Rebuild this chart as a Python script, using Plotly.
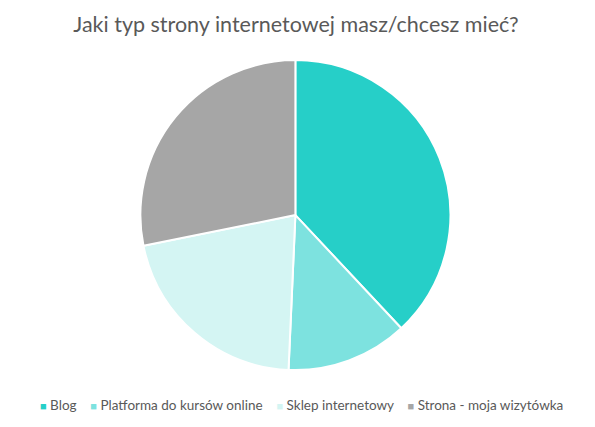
import plotly.graph_objects as go

# survey answers (counts)
labels = ["Blog", "Platforma do kursów online", "Sklep internetowy", "Strona - moja wizytówka"]
counts = [27, 9, 15, 20]
colors = ["#26CFC8", "#7DE2DF", "#D4F5F3", "#A6A6A6"]

fig = go.Figure(go.Pie(
    labels=labels,
    values=counts,
    sort=False,
    direction="clockwise",
    rotation=0,
    textinfo="none",
    hoverinfo="label+value+percent",
    marker=dict(colors=colors, line=dict(color="white", width=2)),
    domain=dict(x=[0.222, 0.744], y=[0.152, 0.878]),
    showlegend=False,
))

# legend drawn as one line of text, like the original office-style legend
items = ["<span style='color:%s;font-size:11px'>■</span> %s" % (c, l) for l, c in zip(labels, colors)]
legend_text = "&nbsp;&nbsp;&nbsp;&nbsp;".join(items)
fig.add_annotation(text=legend_text, x=0.493, y=0.07, xref="paper", yref="paper",
                   xanchor="center", yanchor="middle", showarrow=False,
                   font=dict(size=13.5, color="#595959"))

fig.update_layout(
    width=595, height=427,
    margin=dict(l=0, r=0, t=0, b=0),
    paper_bgcolor="white",
    font=dict(family="Lato, Open Sans, sans-serif", color="#595959"),
    title=dict(text="Jaki typ strony internetowej masz/chcesz mieć?",
               x=0.484, xanchor="center", y=0.962, yanchor="middle",
               font=dict(size=21.5, color="#595959")),
)

fig.write_html("out.html")
